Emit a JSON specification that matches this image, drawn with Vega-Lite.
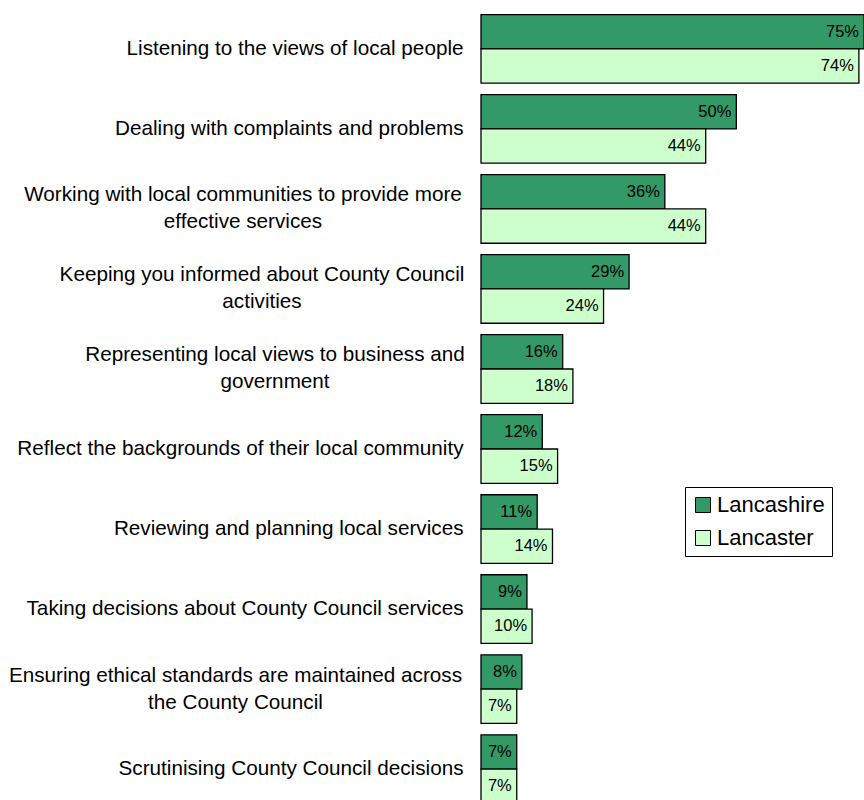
{
  "$schema": "https://vega.github.io/schema/vega-lite/v6.json",
  "width": 383,
  "height": 791,
  "autosize": {"type": "none"},
  "padding": {"left": 481, "top": 9, "right": 0, "bottom": 0},
  "background": "white",
  "config": {"view": {"stroke": null}, "font": "Liberation Sans"},
  "data": {"values": [
    {"item": "Listening to the views of local people", "ord": 1, "area": "Lancashire", "value": 75, "pct": "75%"},
    {"item": "Listening to the views of local people", "ord": 1, "area": "Lancaster", "value": 74, "pct": "74%"},
    {"item": "Dealing with complaints and problems", "ord": 2, "area": "Lancashire", "value": 50, "pct": "50%"},
    {"item": "Dealing with complaints and problems", "ord": 2, "area": "Lancaster", "value": 44, "pct": "44%"},
    {"item": "Working with local communities to provide more|effective services", "ord": 3, "area": "Lancashire", "value": 36, "pct": "36%"},
    {"item": "Working with local communities to provide more|effective services", "ord": 3, "area": "Lancaster", "value": 44, "pct": "44%"},
    {"item": "Keeping you informed about County Council|activities", "ord": 4, "area": "Lancashire", "value": 29, "pct": "29%"},
    {"item": "Keeping you informed about County Council|activities", "ord": 4, "area": "Lancaster", "value": 24, "pct": "24%"},
    {"item": "Representing local views to business and|government", "ord": 5, "area": "Lancashire", "value": 16, "pct": "16%"},
    {"item": "Representing local views to business and|government", "ord": 5, "area": "Lancaster", "value": 18, "pct": "18%"},
    {"item": "Reflect the backgrounds of their local community", "ord": 6, "area": "Lancashire", "value": 12, "pct": "12%"},
    {"item": "Reflect the backgrounds of their local community", "ord": 6, "area": "Lancaster", "value": 15, "pct": "15%"},
    {"item": "Reviewing and planning local services", "ord": 7, "area": "Lancashire", "value": 11, "pct": "11%"},
    {"item": "Reviewing and planning local services", "ord": 7, "area": "Lancaster", "value": 14, "pct": "14%"},
    {"item": "Taking decisions about County Council services", "ord": 8, "area": "Lancashire", "value": 9, "pct": "9%"},
    {"item": "Taking decisions about County Council services", "ord": 8, "area": "Lancaster", "value": 10, "pct": "10%"},
    {"item": "Ensuring ethical standards are maintained across|the County Council", "ord": 9, "area": "Lancashire", "value": 8, "pct": "8%"},
    {"item": "Ensuring ethical standards are maintained across|the County Council", "ord": 9, "area": "Lancaster", "value": 7, "pct": "7%"},
    {"item": "Scrutinising County Council decisions", "ord": 10, "area": "Lancashire", "value": 7, "pct": "7%"},
    {"item": "Scrutinising County Council decisions", "ord": 10, "area": "Lancaster", "value": 7, "pct": "7%"}
  ]},
  "encoding": {
    "y": {
      "field": "item", "type": "nominal",
      "sort": {"field": "ord", "op": "min", "order": "ascending"},
      "scale": {"range": [0, 800], "paddingInner": 0.143, "paddingOuter": 0.07},
      "axis": {
        "title": null, "domain": false, "ticks": false, "grid": false,
        "labelExpr": "split(datum.label, '|')",
        "labelFontSize": 20.7, "labelColor": "black",
        "labelLineHeight": 27, "labelLimit": 600,
        "labelAlign": {"condition": {"test": "indexof(datum.value, '|') >= 0", "value": "center"}, "value": "right"},
        "labelOffset": {"condition": {"test": "indexof(datum.value, '|') >= 0", "value": -13.5}, "value": 0},
        "labelPadding": {"condition": [
          {"test": "indexof(datum.value, 'Working') == 0", "value": 238.5},
          {"test": "indexof(datum.value, 'Keeping') == 0", "value": 219.5},
          {"test": "indexof(datum.value, 'Representing') == 0", "value": 206.5},
          {"test": "indexof(datum.value, 'Ensuring') == 0", "value": 246}
        ], "value": 18}
      }
    },
    "yOffset": {"field": "area", "type": "nominal", "sort": ["Lancashire", "Lancaster"]},
    "x": {
      "field": "value", "type": "quantitative",
      "scale": {"domain": [0, 75], "nice": false},
      "axis": null
    }
  },
  "layer": [
    {
      "mark": {"type": "bar", "stroke": "black", "strokeWidth": 1.3},
      "encoding": {
        "color": {
          "field": "area", "type": "nominal",
          "scale": {"domain": ["Lancashire", "Lancaster"], "range": ["#339966", "#CCFFCC"]},
          "legend": {
            "title": null, "orient": "none", "legendX": 204, "legendY": 478,
            "strokeColor": "black", "padding": 7, "fillColor": "white",
            "symbolType": "square", "symbolSize": 225, "symbolStrokeColor": "black",
            "symbolStrokeWidth": 1, "symbolOpacity": 1,
            "labelFontSize": 22, "labelColor": "black", "labelFont": "Liberation Sans",
            "rowPadding": 11, "labelOffset": 3
          }
        }
      }
    },
    {
      "mark": {"type": "text", "align": "right", "baseline": "middle", "dx": -5, "fontSize": 16.5, "color": "black"},
      "encoding": {
        "text": {"field": "pct", "type": "nominal"}
      }
    }
  ]
}
